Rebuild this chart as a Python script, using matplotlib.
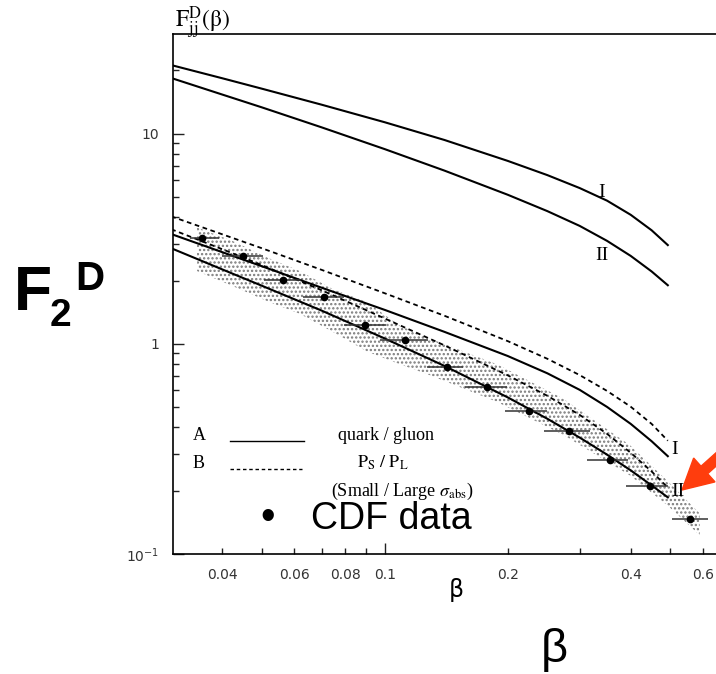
import numpy as np
import matplotlib
matplotlib.use("Agg")
import matplotlib.pyplot as plt
from matplotlib.patches import FancyArrow
from matplotlib.transforms import IdentityTransform
from matplotlib.ticker import FixedLocator, FixedFormatter, NullFormatter

W, H = 716, 674

# ---- data ----
beta_grid = [0.03, 0.04, 0.05, 0.07, 0.1, 0.14, 0.2, 0.25, 0.3, 0.35, 0.4, 0.45, 0.493]
jj_I = [21.2, 18.35, 16.37, 13.74, 11.33, 9.33, 7.42, 6.35, 5.51, 4.80, 4.11, 3.47, 2.95]
jj_II = [18.4, 15.35, 13.34, 10.72, 8.44, 6.67, 5.12, 4.28, 3.64, 3.09, 2.62, 2.21, 1.90]
B_I = [4.04, 3.32, 2.85, 2.25, 1.74, 1.36, 1.03, 0.849, 0.710, 0.597, 0.502, 0.416, 0.346]
A_I = [3.33, 2.73, 2.34, 1.85, 1.45, 1.14, 0.875, 0.724, 0.604, 0.501, 0.416, 0.344, 0.292]
B_II = [3.51, 2.82, 2.37, 1.80, 1.32, 0.983, 0.708, 0.566, 0.459, 0.373, 0.303, 0.247, 0.207]
A_II = [2.85, 2.26, 1.89, 1.44, 1.06, 0.785, 0.556, 0.440, 0.358, 0.297, 0.250, 0.212, 0.186]

cdf_beta = [0.0356, 0.0449, 0.0563, 0.0709, 0.0894, 0.112, 0.142, 0.178, 0.225, 0.282, 0.355, 0.445, 0.558]
cdf_F = [3.18, 2.61, 2.01, 1.67, 1.23, 1.04, 0.78, 0.62, 0.48, 0.385, 0.28, 0.21, 0.147]
cdf_lo = [0.0334, 0.0399, 0.0505, 0.0630, 0.0795, 0.0973, 0.1267, 0.157, 0.197, 0.246, 0.312, 0.390, 0.506]
cdf_hi = [0.0393, 0.0503, 0.0625, 0.0795, 0.1005, 0.1274, 0.1553, 0.199, 0.249, 0.318, 0.393, 0.493, 0.617]

band_beta = [0.0347, 0.0425, 0.0514, 0.0619, 0.0746, 0.0904, 0.1088, 0.1288, 0.188, 0.2727, 0.3977, 0.4928, 0.590]
band_hi = [3.58, 3.08, 2.58, 2.22, 1.82, 1.58, 1.22, 1.06, 0.80, 0.55, 0.33, 0.222, 0.156]
band_lo = [2.22, 1.88, 1.60, 1.39, 1.14, 0.92, 0.80, 0.71, 0.53, 0.37, 0.237, 0.17, 0.123]

xtick_major = [0.1]
xtick_minor = [0.04, 0.05, 0.06, 0.07, 0.08, 0.09, 0.2, 0.3, 0.4, 0.5, 0.6, 0.7]
xtick_minor_labels = ["0.04", "", "0.06", "", "0.08", "", "0.2", "", "0.4", "", "0.6", ""]

SERIF = "Liberation Serif"
SANS = "Liberation Sans"


def fx(px):
    return px / W


def fy(py):
    return 1 - py / H


fig = plt.figure(figsize=(W / 100, H / 100), dpi=100)
ax = fig.add_axes([fx(173), fy(554), (730 - 173) / W, (554 - 34) / H])
ax.set_xscale("log")
ax.set_yscale("log")
ax.set_xlim(0.0303, 0.7)
ax.set_ylim(0.1, 29.8)

# stippled band around the data
plt.rcParams["hatch.linewidth"] = 1.1
ax.fill_between(band_beta, band_lo, band_hi, facecolor="none", edgecolor="#7a7a7a",
                hatch="....", linewidth=0)

lw = 1.5
dash = (0, (2.6, 2.0))
ax.plot(beta_grid, jj_I, color="k", lw=lw)
ax.plot(beta_grid, jj_II, color="k", lw=lw)
ax.plot(beta_grid, A_I, color="k", lw=lw)
ax.plot(beta_grid, A_II, color="k", lw=lw)
ax.plot(beta_grid, B_I, color="k", lw=1.3, ls=dash)
ax.plot(beta_grid, B_II, color="k", lw=1.3, ls=dash)

xerr = [np.array(cdf_beta) - np.array(cdf_lo), np.array(cdf_hi) - np.array(cdf_beta)]
ax.errorbar(cdf_beta, cdf_F, xerr=xerr, fmt="o", color="k", ms=4.5,
            ecolor="#333333", elinewidth=1.1, capsize=0)

# ticks
ax.xaxis.set_major_locator(FixedLocator(xtick_major))
ax.xaxis.set_major_formatter(FixedFormatter(["0.1"]))
ax.xaxis.set_minor_locator(FixedLocator(xtick_minor))
ax.xaxis.set_minor_formatter(FixedFormatter(xtick_minor_labels))
ax.yaxis.set_major_locator(FixedLocator([0.1, 1, 10]))
ax.yaxis.set_major_formatter(FixedFormatter([r"$10^{-1}$", "1", "10"]))
ax.yaxis.set_minor_locator(FixedLocator([v * d for d in (0.1, 1, 10) for v in range(2, 10)]))
ax.yaxis.set_minor_formatter(NullFormatter())
ax.tick_params(which="both", direction="in", colors="#222222", labelcolor="#333333",
               labelsize=10, width=1.0)
ax.tick_params(axis="x", which="both", pad=10)
ax.tick_params(axis="y", which="both", pad=10)
ax.tick_params(which="major", length=8)
ax.tick_params(which="minor", length=4)
for lab in ax.get_xticklabels(which="both") + ax.get_yticklabels():
    lab.set_fontfamily("DejaVu Sans")
    lab.set_math_fontfamily("dejavusans")
for s in ax.spines.values():
    s.set_linewidth(1.2)

# curve labels
for x, y, t in [(602, 193, "I"), (602, 256, "II"), (671, 450, "I"), (671, 492, "II")]:
    fig.text(fx(x), fy(y), t, family=SERIF, fontsize=14, ha="left" if x > 660 else "center",
             va="center")

# in-plot legend
fig.text(fx(193), fy(435), "A", family=SERIF, fontsize=13, va="center")
fig.text(fx(193), fy(463), "B", family=SERIF, fontsize=13, va="center")
ax.add_line(plt.Line2D([fx(230), fx(304)], [fy(441), fy(441)], transform=fig.transFigure,
                       color="k", lw=1.0))
ax.add_line(plt.Line2D([fx(230), fx(302)], [fy(469), fy(469)], transform=fig.transFigure,
                       color="k", lw=1.0, ls=(0, (2.5, 2.0))))
fig.text(fx(386), fy(435), "quark / gluon", family=SERIF, fontsize=13, ha="center", va="center")
fig.text(fx(383), fy(463), r"$\mathrm{P_S\ /\ P_L}$", family=SERIF, math_fontfamily="stix",
         fontsize=13, ha="center", va="center")
fig.text(fx(402), fy(491), r"(Small / Large $\sigma_{\mathrm{abs}}$)", family=SERIF,
         math_fontfamily="stix", fontsize=13, ha="center", va="center")
fig.text(fx(268), fy(518), "\u2022", family=SANS, fontsize=30, ha="center", va="center")
fig.text(fx(311), fy(519), "CDF data", family=SANS, fontsize=27, ha="left", va="center")

# axis titles
fig.text(fx(175), fy(28), r"$\mathrm{F^{D}_{jj}(\beta)}$", math_fontfamily="stix",
         fontsize=17, ha="left", va="baseline")
fig.text(fx(456), fy(590), "\u03b2", family="DejaVu Sans", fontsize=17, ha="center", va="center")
fig.text(fx(14), fy(310), "F", family=SANS, weight="bold", fontsize=45, ha="left", va="baseline")
fig.text(fx(50), fy(326), "2", family=SANS, weight="bold", fontsize=28, ha="left", va="baseline")
fig.text(fx(75), fy(290), "D", family=SANS, weight="bold", fontsize=29, ha="left", va="baseline")
fig.text(fx(554), fy(650), "\u03b2", family=SANS, fontsize=34, ha="center", va="center")

# red arrow pointing at curve II
arrow = FancyArrow(740, H - 438, -58, -52, width=10, head_width=32, head_length=30,
                   length_includes_head=True, color="#ff3d0d", transform=IdentityTransform())
fig.add_artist(arrow)

fig.savefig("out.png", dpi=100)
